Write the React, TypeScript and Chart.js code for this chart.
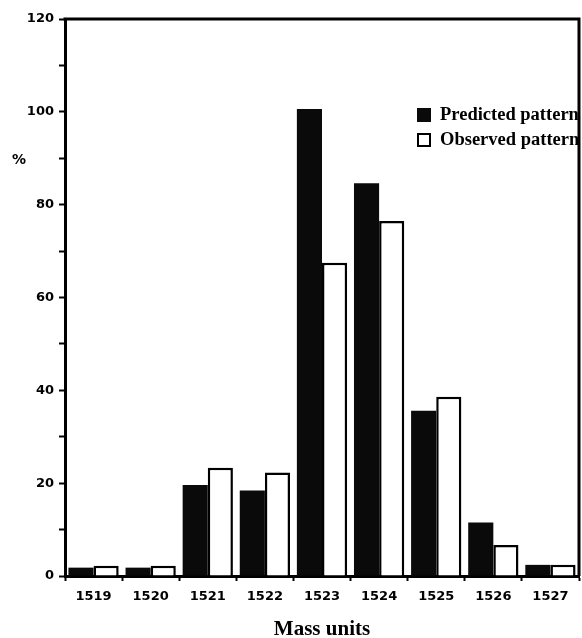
import React, { useEffect, useRef } from "react";
import { Chart, registerables } from "chart.js";

Chart.register(...registerables);

const categories = ["1519", "1520", "1521", "1522", "1523", "1524", "1525", "1526", "1527"];
const predicted = [1.8, 1.8, 19.6, 18.4, 100.6, 84.6, 35.6, 11.5, 2.4];
const observed = [2.2, 2.2, 23.3, 22.3, 67.5, 76.5, 38.6, 6.7, 2.4];
const yTicksMajor = [0, 20, 40, 60, 80, 100, 120];

const framePlugin = {
  id: "frame",
  afterDraw(chart: any) {
    const { ctx, chartArea } = chart;
    ctx.save();
    ctx.strokeStyle = "#000";
    ctx.lineWidth = 3;
    ctx.beginPath();
    ctx.moveTo(chartArea.left - 1.5, chartArea.top);
    ctx.lineTo(chartArea.right, chartArea.top);
    ctx.lineTo(chartArea.right, chartArea.bottom);
    ctx.stroke();
    ctx.restore();
  },
};

export default function App() {
  const ref = useRef<HTMLCanvasElement | null>(null);
  useEffect(() => {
    if (!ref.current) return;
    const chart = new Chart(ref.current, {
      type: "bar",
      data: {
        labels: categories,
        datasets: [
          {
            label: "Predicted pattern",
            data: predicted,
            backgroundColor: "#0a0a0a",
            borderColor: "#0a0a0a",
            borderWidth: 0,
            categoryPercentage: 0.88,
            barPercentage: 1,
          },
          {
            label: "Observed pattern",
            data: observed,
            backgroundColor: "#ffffff",
            borderColor: "#000000",
            borderWidth: 2.5,
            categoryPercentage: 0.88,
            barPercentage: 1,
          },
        ],
      },
      options: {
        animation: false,
        responsive: true,
        maintainAspectRatio: false,
        layout: { padding: { top: 19, right: 3, left: 0, bottom: 0 } },
        plugins: {
          legend: { display: false },
          tooltip: { enabled: false },
        },
        scales: {
          x: {
            grid: {
              display: true,
              offset: true,
              drawOnChartArea: false,
              drawTicks: true,
              tickLength: 5,
              tickColor: "#000",
              tickWidth: 2,
            },
            border: { display: true, color: "#000", width: 3 },
            ticks: {
              color: "#000",
              padding: 8,
              font: { family: "DejaVu Sans", weight: "bold", size: 13 },
              maxRotation: 0,
            },
            title: {
              display: true,
              text: "Mass units",
              color: "#000",
              font: { family: "Liberation Serif", weight: "bold", size: 21 },
              padding: { top: 14, bottom: -4 },
            },
            afterFit: (axis: any) => {
              axis.height = 62;
            },
          },
          y: {
            min: 0,
            max: 120,
            ticks: {
              stepSize: 10,
              color: "#000",
              padding: 5,
              font: { family: "DejaVu Sans", weight: "bold", size: 13 },
              callback: (v: any) => (yTicksMajor.includes(Number(v)) ? String(v) : ""),
            },
            grid: {
              display: true,
              drawOnChartArea: false,
              drawTicks: true,
              tickLength: 6,
              tickColor: "#000",
              tickWidth: 2,
            },
            border: { display: true, color: "#000", width: 3 },
            afterFit: (axis: any) => {
              axis.width = 65;
            },
          },
        },
      },
      plugins: [framePlugin],
    });
    return () => chart.destroy();
  }, []);

  const legendItem = (filled: boolean, text: string) => (
    <div style={{ display: "flex", alignItems: "center", height: 25 }}>
      <span
        style={{
          display: "inline-block",
          width: filled ? 14 : 10,
          height: filled ? 14 : 10,
          background: filled ? "#0a0a0a" : "#fff",
          border: filled ? "none" : "2px solid #000",
          marginRight: 9,
          flexShrink: 0,
        }}
      />
      <span style={{ fontFamily: "Liberation Serif", fontWeight: "bold", fontSize: 18.5, whiteSpace: "nowrap" }}>
        {text}
      </span>
    </div>
  );

  return (
    <div style={{ position: "absolute", left: 0, top: 0, width: 582, height: 638, background: "#fff", overflow: "hidden" }}>
      <canvas ref={ref} />
      <div
        style={{
          position: "absolute",
          left: 12,
          top: 151,
          fontFamily: "DejaVu Sans",
          fontWeight: "bold",
          fontSize: 14,
        }}
      >
        %
      </div>
      <div style={{ position: "absolute", left: 417, top: 102 }}>
        {legendItem(true, "Predicted pattern")}
        {legendItem(false, "Observed pattern")}
      </div>
    </div>
  );
}
